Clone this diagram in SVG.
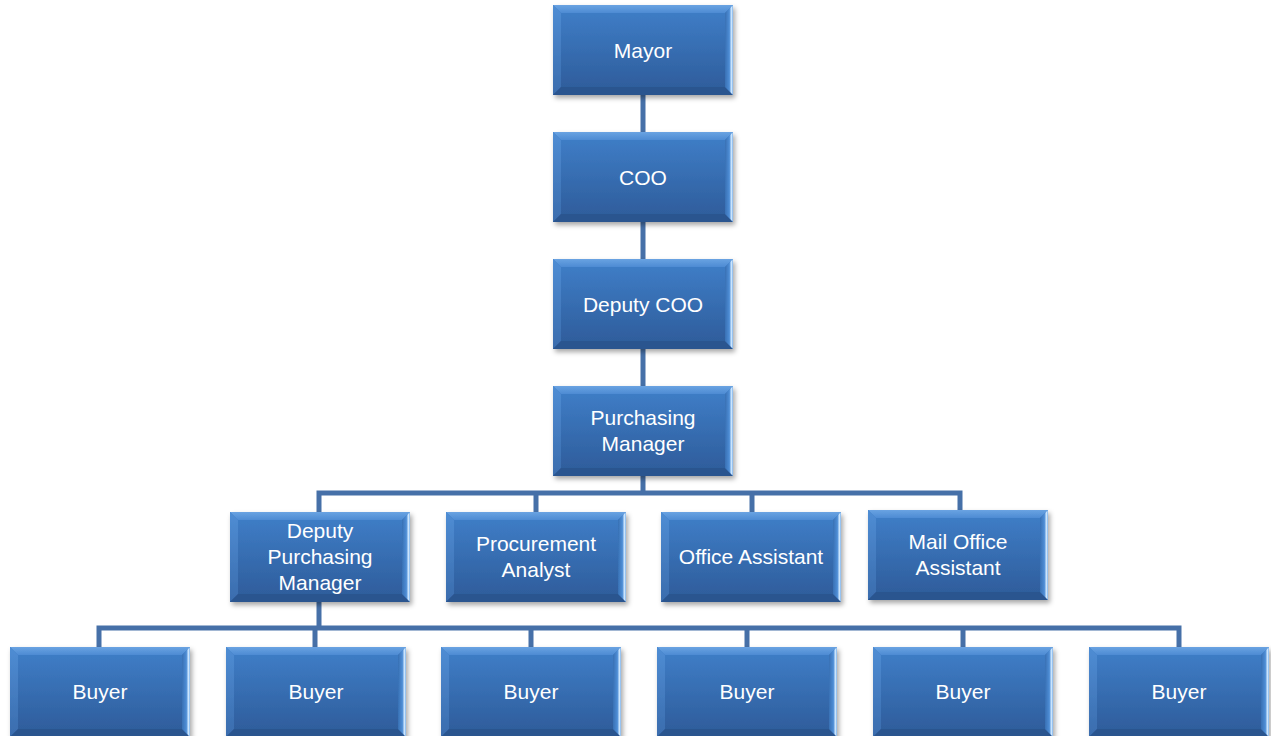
<svg xmlns="http://www.w3.org/2000/svg" xmlns:xlink="http://www.w3.org/1999/xlink" width="1271" height="736" viewBox="0 0 1271 736">
<defs>
<linearGradient id="face" x1="0" y1="0" x2="0" y2="1">
<stop offset="0" stop-color="#3e7cc5"/>
<stop offset="1" stop-color="#2f5e9d"/>
</linearGradient>
<linearGradient id="topb" x1="0" y1="0" x2="0" y2="1">
<stop offset="0" stop-color="#6aa3e2"/>
<stop offset="1" stop-color="#4d8bd3"/>
</linearGradient>
<linearGradient id="leftb" x1="0" y1="0" x2="0" y2="1">
<stop offset="0" stop-color="#4f8dd4"/>
<stop offset="1" stop-color="#3a6cad"/>
</linearGradient>
<linearGradient id="rightb" x1="0" y1="0" x2="1" y2="0">
<stop offset="0" stop-color="#3770b4"/>
<stop offset="0.55" stop-color="#4f8ed6"/>
<stop offset="0.8" stop-color="#cfe8ff"/>
<stop offset="1" stop-color="#7fb3ea"/>
</linearGradient>
<filter id="sh" x="-10%" y="-10%" width="125%" height="130%">
<feDropShadow dx="2" dy="3" stdDeviation="2.5" flood-color="#000" flood-opacity="0.35"/>
</filter>
<symbol id="box" overflow="visible">
<g filter="url(#sh)">
<rect x="0" y="0" width="180" height="90" fill="url(#face)"/>
<polygon points="0,0 180,0 172,8 8,8" fill="url(#topb)"/>
<polygon points="0,0 8,8 8,82 0,90" fill="url(#leftb)"/>
<polygon points="0,90 8,82 172,82 180,90" fill="#2b558f"/>
<polygon points="180,0 180,90 172,82 172,8" fill="url(#rightb)"/>
<rect x="8" y="8" width="164" height="74" fill="url(#face)"/>
</g>
</symbol>
</defs>
<style>
.conn{fill:none;stroke:#4670a8;stroke-width:5;stroke-linejoin:miter}
.lbl{font-family:"Liberation Sans",Arial,sans-serif;font-size:21px;fill:#ffffff;text-anchor:middle}
</style>
<rect width="1271" height="736" fill="#ffffff"/>
<g id="connectors">
<path class="conn" d="M643,95 V132 M643,221 V259 M643,348 V386 M643,475 V493"/>
<path class="conn" d="M319,512 V493 H960 V510 M536,493 V512 M752,493 V512"/>
<path class="conn" d="M319,602 V628 M99,647 V628 H1179 V647 M315,628 V647 M531,628 V647 M747,628 V647 M963,628 V647"/>
</g>
<g id="mayor"><use xlink:href="#box" x="553" y="5"/><text class="lbl" x="643" y="58">Mayor</text></g>
<g id="coo"><use xlink:href="#box" x="553" y="132"/><text class="lbl" x="643" y="185">COO</text></g>
<g id="deputy-coo"><use xlink:href="#box" x="553" y="259"/><text class="lbl" x="643" y="312">Deputy COO</text></g>
<g id="purchasing-manager"><use xlink:href="#box" x="553" y="386"/><text class="lbl" x="643" y="425">Purchasing</text><text class="lbl" x="643" y="451">Manager</text></g>
<g id="deputy-purchasing-manager"><use xlink:href="#box" x="230" y="512"/><text class="lbl" x="320" y="538">Deputy</text><text class="lbl" x="320" y="564">Purchasing</text><text class="lbl" x="320" y="590">Manager</text></g>
<g id="procurement-analyst"><use xlink:href="#box" x="446" y="512"/><text class="lbl" x="536" y="551">Procurement</text><text class="lbl" x="536" y="577">Analyst</text></g>
<g id="office-assistant"><use xlink:href="#box" x="661" y="512"/><text class="lbl" x="751" y="564">Office Assistant</text></g>
<g id="mail-office-assistant"><use xlink:href="#box" x="868" y="510"/><text class="lbl" x="958" y="549">Mail Office</text><text class="lbl" x="958" y="575">Assistant</text></g>
<g id="buyer1"><use xlink:href="#box" x="10" y="647"/><text class="lbl" x="100" y="699">Buyer</text></g>
<g id="buyer2"><use xlink:href="#box" x="226" y="647"/><text class="lbl" x="316" y="699">Buyer</text></g>
<g id="buyer3"><use xlink:href="#box" x="441" y="647"/><text class="lbl" x="531" y="699">Buyer</text></g>
<g id="buyer4"><use xlink:href="#box" x="657" y="647"/><text class="lbl" x="747" y="699">Buyer</text></g>
<g id="buyer5"><use xlink:href="#box" x="873" y="647"/><text class="lbl" x="963" y="699">Buyer</text></g>
<g id="buyer6"><use xlink:href="#box" x="1089" y="647"/><text class="lbl" x="1179" y="699">Buyer</text></g>
</svg>
